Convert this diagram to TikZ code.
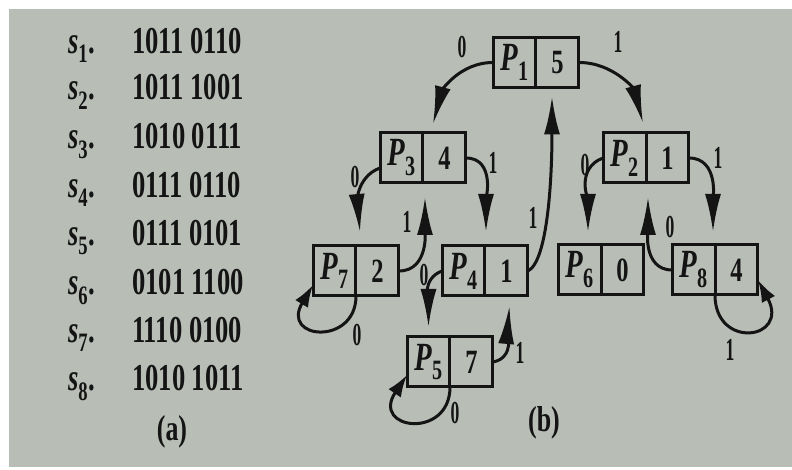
\documentclass[tikz,border=0pt]{standalone}
\usepackage{fontspec}
\setmainfont{Liberation Serif}
\usetikzlibrary{positioning,arrows.meta}

\definecolor{paper}{RGB}{184,189,182}
\definecolor{ink}{RGB}{20,20,20}

\newcommand{\plabel}[1]{{\fontsize{40}{40}\selectfont\textit{P}\textsubscript{#1}}}
\newcommand{\slabel}[1]{\textit{s}\textsubscript{#1}.}

\tikzset{
  half/.style={draw=ink, text=ink, line width=3pt, outer sep=0pt, inner sep=0pt,
    minimum width=59.7pt, minimum height=50pt, xscale=0.72,
    font=\fontsize{34}{34}\selectfont\bfseries},
  row/.style={text=ink, inner sep=0pt, anchor=base west, xscale=0.7,
    font=\fontsize{38}{38}\selectfont\bfseries},
  caption/.style={text=ink, inner sep=0pt, xscale=0.72,
    font=\fontsize{36}{36}\selectfont\bfseries},
  lab/.style={text=ink, inner sep=0pt, xscale=0.55,
    font=\fontsize{32}{32}\selectfont\bfseries},
  link/.style={draw=ink, line width=3pt, -{Latex[length=38pt,width=16pt]}},
  selfloop/.style={draw=ink, line width=3pt, -{Latex[length=22pt,width=15pt]}}
}

\begin{document}
\begin{tikzpicture}[x=1pt,y=1pt]
	\useasboundingbox (0,0) rectangle (792,470);
	\fill[paper] (9,3) rectangle (792,461);

	% (a) the strings
	\node[row] (s1) at (68,416) {\slabel{1}};
	\node[row] (b1) at (132,416) {1011 0110};
	\node[row] (s2) at (68,370) {\slabel{2}};
	\node[row] (b2) at (132,370) {1011 1001};
	\node[row] (s3) at (68,321) {\slabel{3}};
	\node[row] (b3) at (132,321) {1010 0111};
	\node[row] (s4) at (68,272) {\slabel{4}};
	\node[row] (b4) at (132,272) {0111 0110};
	\node[row] (s5) at (68,224) {\slabel{5}};
	\node[row] (b5) at (132,224) {0111 0101};
	\node[row] (s6) at (68,175) {\slabel{6}};
	\node[row] (b6) at (132,175) {0101 1100};
	\node[row] (s7) at (68,127) {\slabel{7}};
	\node[row] (b7) at (132,127) {1110 0100};
	\node[row] (s8) at (68,79) {\slabel{8}};
	\node[row] (b8) at (132,79) {1010 1011};
	\node[caption] (capa) at (172,38) {(a)};

	% (b) the tree of counters
	\node[half] (p1) at (514.5,407.5) {\plabel{1}};
	\node[half, right=0pt of p1] (n1) {5};
	\node[half] (p3) at (401.5,312) {\plabel{3}};
	\node[half, right=0pt of p3] (n3) {4};
	\node[half] (p2) at (624.5,312) {\plabel{2}};
	\node[half, right=0pt of p2] (n2) {1};
	\node[half] (p7) at (334.5,199) {\plabel{7}};
	\node[half, right=0pt of p7] (n7) {2};
	\node[half] (p4) at (463.5,199) {\plabel{4}};
	\node[half, right=0pt of p4] (n4) {1};
	\node[half] (p6) at (579.5,200) {\plabel{6}};
	\node[half, right=0pt of p6] (n6) {0};
	\node[half] (p8) at (693.5,200) {\plabel{8}};
	\node[half, right=0pt of p8] (n8) {4};
	\node[half] (p5) at (428.5,108) {\plabel{5}};
	\node[half, right=0pt of p5] (n5) {7};
	\node[caption] (capb) at (544,47) {(b)};

	\draw[link] (p1.west) to[out=180,in=75] ([xshift=10pt,yshift=9pt]p3.north east);
	\draw[link] (n1.east) to[out=0,in=105] ([xshift=-3pt,yshift=10pt]p2.north east);
	\draw[link] ([yshift=-10pt]p3.west) to[out=200,in=95] ([xshift=4pt,yshift=14pt]p7.north east);
	\draw[link] (n3.east) to[out=0,in=90] ([xshift=1pt,yshift=14pt]p4.north east);
	\draw[link] (n7.east) to[out=0,in=-90] ([xshift=2pt,yshift=-14pt]p3.south east);
	\draw[link] (n4.east) .. controls +(20,10) and +(0,-80) .. ([xshift=16pt,yshift=-9pt]p1.south east);
	\draw[link] (p4.west) to[out=200,in=90] ([yshift=10pt]p5.north);
	\draw[link] (n5.east) to[out=10,in=-95] ([xshift=3pt,yshift=-10pt]n4.south);
	\draw[link] (p2.west) to[out=200,in=90] ([xshift=-13pt,yshift=13pt]p6.north east);
	\draw[link] (n2.east) to[out=0,in=90] ([xshift=-2pt,yshift=13pt]p8.north east);
	\draw[link] (p8.west) to[out=180,in=-90] ([xshift=2pt,yshift=-14pt]p2.south east);
	\draw[selfloop] (p7.south east) .. controls +(0,-50) and +(-33,-55) .. ([yshift=-14pt]p7.west);
	\draw[selfloop] (p5.south east) .. controls +(0,-53) and +(-37,-55) .. ([yshift=-13pt]p5.west);
	\draw[selfloop] (p8.south east) .. controls +(0,-55) and +(32,-60) .. ([yshift=-10pt]n8.east);

	\node[lab] (l13) at (462,423) {0};
	\node[lab] (l12) at (618,428) {1};
	\node[lab] (l37) at (355,293) {0};
	\node[lab] (l34) at (493,307) {1};
	\node[lab] (l73) at (407,248) {1};
	\node[lab] (l41) at (533,252) {1};
	\node[lab] (l45) at (424,195) {0};
	\node[lab] (l54) at (520,117) {1};
	\node[lab] (l55) at (455,57) {0};
	\node[lab] (l77) at (357,135) {0};
	\node[lab] (l26) at (585,305) {0};
	\node[lab] (l28) at (718,312) {1};
	\node[lab] (l82) at (670,243) {0};
	\node[lab] (l88) at (730,120) {1};
\end{tikzpicture}
\end{document}
